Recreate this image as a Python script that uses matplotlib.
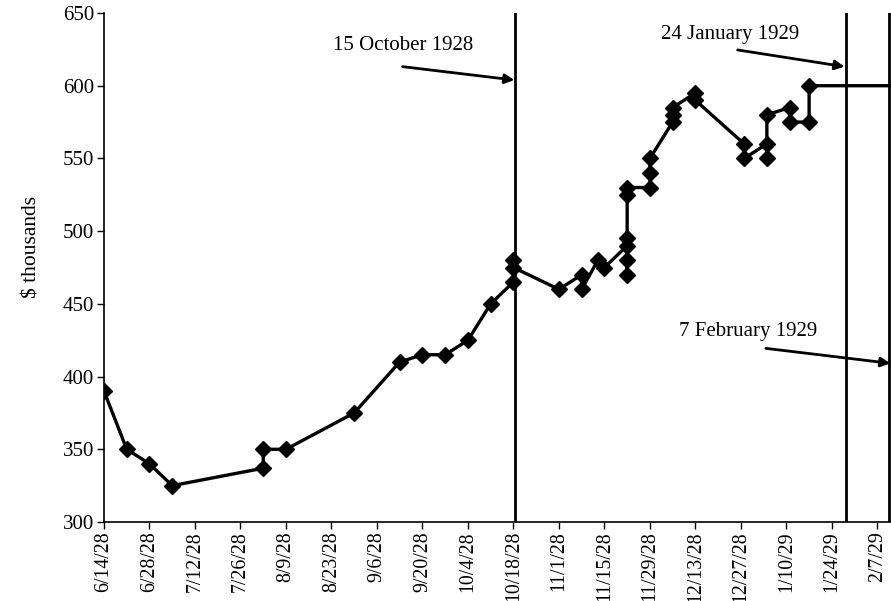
import datetime as dt
import matplotlib
matplotlib.use("Agg")
import matplotlib.pyplot as plt
import matplotlib.dates as mdates

plt.rcParams['font.family'] = ['Liberation Serif', 'DejaVu Serif']

# ---- data ----
obs_dates = [
    "1928-06-14", "1928-06-21", "1928-06-28", "1928-07-05",
    "1928-08-02", "1928-08-02", "1928-08-09", "1928-08-30",
    "1928-09-13", "1928-09-20", "1928-09-27", "1928-10-04", "1928-10-11",
    "1928-10-18", "1928-10-18", "1928-10-18",
    "1928-11-01", "1928-11-08", "1928-11-08", "1928-11-13", "1928-11-15",
    "1928-11-22", "1928-11-22", "1928-11-22", "1928-11-22", "1928-11-22", "1928-11-22",
    "1928-11-29", "1928-11-29", "1928-11-29",
    "1928-12-06", "1928-12-06", "1928-12-06",
    "1928-12-13", "1928-12-13",
    "1928-12-28", "1928-12-28",
    "1929-01-04", "1929-01-04", "1929-01-04",
    "1929-01-11", "1929-01-11",
    "1929-01-17", "1929-01-17",
    "1929-02-20",
]
obs_values = [
    390, 350, 340, 325,
    337, 350, 350, 375,
    410, 415, 415, 425, 450,
    465, 480, 475,
    460, 470, 460, 480, 475,
    490, 470, 480, 495, 525, 530,
    530, 540, 550,
    575, 580, 585,
    595, 590,
    560, 550,
    560, 550, 580,
    585, 575,
    575, 600,
    600,
]
event_labels = ["15 October 1928", "24 January 1929", "7 February 1929"]
event_line_dates = ["1928-10-18 14:00", "1929-01-28 05:00", "1929-02-10 12:00"]
tick_dates = ["1928-06-14", "1928-06-28", "1928-07-12", "1928-07-26", "1928-08-09",
              "1928-08-23", "1928-09-06", "1928-09-20", "1928-10-04", "1928-10-18",
              "1928-11-01", "1928-11-15", "1928-11-29", "1928-12-13", "1928-12-27",
              "1929-01-10", "1929-01-24", "1929-02-07"]
tick_labels = ["6/14/28", "6/28/28", "7/12/28", "7/26/28", "8/9/28", "8/23/28",
               "9/6/28", "9/20/28", "10/4/28", "10/18/28", "11/1/28", "11/15/28",
               "11/29/28", "12/13/28", "12/27/28", "1/10/29", "1/24/29", "2/7/29"]
y_ticks = [300, 350, 400, 450, 500, 550, 600, 650]

# ---- plotting ----
def num(s):
    fmt = "%Y-%m-%d %H:%M" if " " in s else "%Y-%m-%d"
    return mdates.date2num(dt.datetime.strptime(s, fmt))

x = [num(s) for s in obs_dates]
x0 = num("1928-06-14")

fig = plt.figure(figsize=(8.91, 6.01), dpi=100)
ax = fig.add_axes([104/891, 1 - 522/601, 1 - 104/891, (522 - 13)/601])

ax.plot(x, obs_values, color='black', lw=2.4, marker='D', markersize=8,
        markerfacecolor='black', markeredgecolor='black', clip_on=True, zorder=3)

for s in event_line_dates:
    ax.axvline(num(s), color='black', lw=2.0, zorder=2)

ax.set_xlim(x0, x0 + 242.2)
ax.set_ylim(300, 650)
ax.set_yticks(y_ticks)
ax.set_yticklabels([str(v) for v in y_ticks])
ax.set_xticks([num(s) for s in tick_dates])
ax.set_xticklabels(tick_labels, rotation=90)

for sp in ["top", "right"]:
    ax.spines[sp].set_visible(False)
for sp in ["left", "bottom"]:
    ax.spines[sp].set_linewidth(1.2)
ax.tick_params(axis='both', direction='out', length=5, width=1.0, labelsize=15, pad=2)
ax.tick_params(axis='x', labelsize=14.3, pad=1.5)
ax.set_ylabel(r"\$ thousands", fontsize=15.5)
ax.yaxis.set_label_coords(-0.079, 0.541)

# annotations (text position, arrow tail, arrow head) in days from start / value
ann = [
    ((70.5, 627.5), (91.9, 613.1), (126.3, 603.9)),
    ((171.5, 635.0), (195.0, 624.6), (227.9, 613.1)),
    ((177.0, 431.0), (203.7, 419.4), (242.0, 409.1)),
]
for label, (tpos, tail, head) in zip(event_labels, ann):
    ax.text(x0 + tpos[0], tpos[1], label, fontsize=15, ha='left', va='center')
    ax.annotate("", xy=(x0 + head[0], head[1]), xytext=(x0 + tail[0], tail[1]),
                xycoords='data', textcoords='data',
                arrowprops=dict(arrowstyle='-|>', color='black', lw=2.0,
                                mutation_scale=14, shrinkA=0, shrinkB=0),
                annotation_clip=False)

fig.savefig("out.png", dpi=100)
